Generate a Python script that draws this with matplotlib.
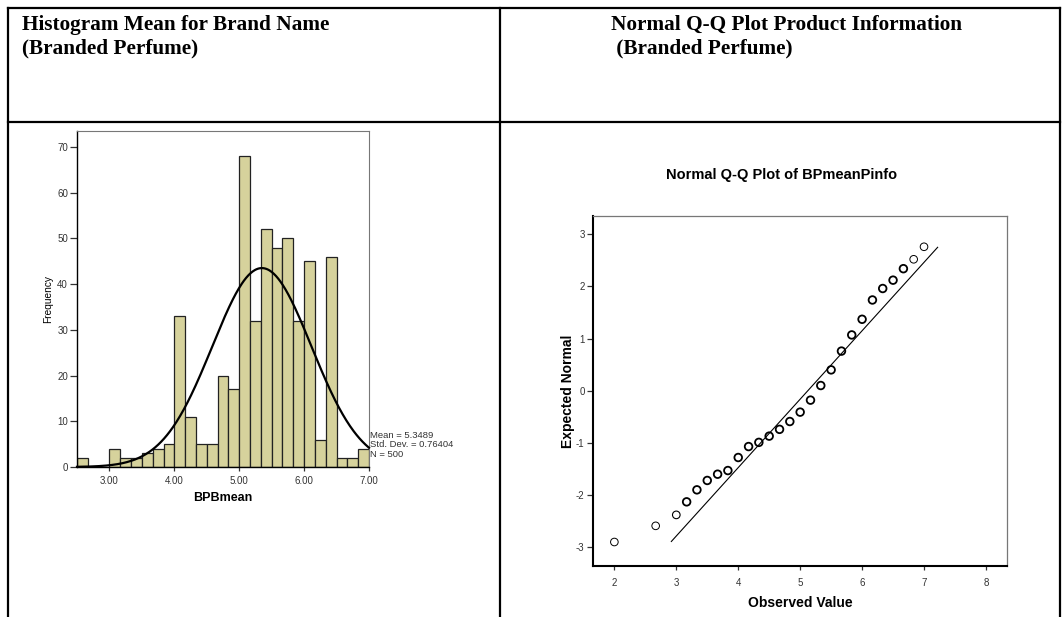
import numpy as np
import matplotlib
matplotlib.use('Agg')
import matplotlib.pyplot as plt
from matplotlib.lines import Line2D

W, H = 1063, 617

# histogram of BPBmean (bins of 1/6 starting at 2.5)
hist_start = 2.5
hist_width = 1.0 / 6
hist_counts = [2, 0, 0, 4, 2, 2, 3, 4, 5, 33, 11, 5, 5, 20, 17,
               68, 32, 52, 48, 50, 32, 45, 6, 46, 2, 2, 4]
hist_mean = 5.3489
hist_sd = 0.76404
hist_n = 500
hist_xticks = [3.0, 4.0, 5.0, 6.0, 7.0]
hist_yticks = [0, 10, 20, 30, 40, 50, 60, 70]

# normal Q-Q of BPmeanPinfo
qq_observed = [2.0, 2.667, 3.0, 3.167, 3.333, 3.5, 3.667, 3.833, 4.0, 4.167,
               4.333, 4.5, 4.667, 4.833, 5.0, 5.167, 5.333, 5.5, 5.667, 5.833,
               6.0, 6.167, 6.333, 6.5, 6.667, 6.833, 7.0]
qq_expected = [-2.90, -2.59, -2.38, -2.13, -1.90, -1.72, -1.60, -1.53, -1.28, -1.07,
               -0.99, -0.87, -0.74, -0.59, -0.41, -0.18, 0.10, 0.40, 0.76, 1.07,
               1.37, 1.74, 1.96, 2.12, 2.34, 2.52, 2.76]
qq_line_x = [2.92, 7.22]
qq_line_y = [-2.89, 2.75]
qq_xticks = [2, 3, 4, 5, 6, 7, 8]
qq_yticks = [-3, -2, -1, 0, 1, 2, 3]


def fx(x):
    return x / W


def fy(y):
    return 1 - y / H


def rect(l, t, r, b):
    return [fx(l), fy(b), (r - l) / W, (b - t) / H]


plt.rcParams['font.family'] = ['Liberation Sans', 'DejaVu Sans']
plt.rcParams['axes.unicode_minus'] = False
fig = plt.figure(figsize=(W / 100, H / 100), dpi=100)
fig.patch.set_facecolor('white')

# table grid
lw_tab = 1.6
for xs, ys in [([8, 1060], [8, 8]), ([8, 1060], [122, 122]),
               ([8, 8], [8, 617]), ([500, 500], [8, 617]), ([1060, 1060], [8, 617])]:
    fig.add_artist(Line2D([fx(v) for v in xs], [fy(v) for v in ys],
                          color='black', lw=lw_tab, transform=fig.transFigure))

hdr = dict(family='Liberation Serif', weight='bold', size=15.3, va='baseline', ha='left')
fig.text(fx(22), fy(30), 'Histogram Mean for Brand Name', **hdr)
fig.text(fx(22), fy(53), '(Branded Perfume)', **hdr)
fig.text(fx(611), fy(30), 'Normal Q-Q Plot Product Information', **hdr)
fig.text(fx(611), fy(53), ' (Branded Perfume)', **hdr)

# ---------- histogram ----------
ax1 = fig.add_axes(rect(77, 131, 369, 467))
lefts = [hist_start + i * hist_width for i in range(len(hist_counts))]
bl = [l for l, c in zip(lefts, hist_counts) if c > 0]
bc = [c for c in hist_counts if c > 0]
ax1.bar(bl, bc, width=hist_width, align='edge', color='#d6d29c',
        edgecolor='#222222', linewidth=0.9, zorder=2)
xs = np.linspace(2.5, 7.0, 400)
ys = hist_n * hist_width * np.exp(-0.5 * ((xs - hist_mean) / hist_sd) ** 2) / (hist_sd * np.sqrt(2 * np.pi))
ax1.plot(xs, ys, color='black', lw=1.6, zorder=3, clip_on=False)
ax1.set_xlim(2.5, 7.0)
ax1.set_ylim(0, 73.5)
ax1.set_xticks(hist_xticks)
ax1.set_xticklabels(['%.2f' % v for v in hist_xticks])
ax1.set_yticks(hist_yticks)
ax1.tick_params(axis='y', direction='out', length=5, width=0.9, color='#333333',
                labelsize=7, labelcolor='#333333', pad=1.5)
ax1.tick_params(axis='x', direction='out', length=3, width=0.9, color='#333333',
                labelsize=7, labelcolor='#333333', pad=3.5)
for s in ['top', 'right']:
    ax1.spines[s].set_color('#777777')
    ax1.spines[s].set_linewidth(0.8)
for s in ['left', 'bottom']:
    ax1.spines[s].set_color('black')
    ax1.spines[s].set_linewidth(1.0)
ax1.set_ylabel('Frequency', fontsize=7.3, labelpad=3)
ax1.set_xlabel('BPBmean', fontsize=9, weight='bold', labelpad=4)
stats = ['Mean = %.4f' % hist_mean, 'Std. Dev. = %.5f' % hist_sd, 'N = %d' % hist_n]
for i, t in enumerate(stats):
    ax1.text(7.02, 7.0 - i * 2.1, t, fontsize=6.8, color='#333333', va='center', ha='left',
             clip_on=False)

# ---------- Q-Q plot ----------
ax2 = fig.add_axes(rect(593, 216, 1007, 566))
edge_w = [0.7, 0.7, 0.8] + [1.3] * 22 + [0.7, 0.7]
ax2.plot(qq_line_x, qq_line_y, color='black', lw=0.8, zorder=2)
ax2.scatter(qq_observed, qq_expected, s=30, facecolors='none', edgecolors='black',
            linewidths=edge_w, zorder=3)
ax2.set_xlim(1.655, 8.34)
ax2.set_ylim(-3.36, 3.35)
ax2.set_xticks(qq_xticks)
ax2.set_yticks(qq_yticks)
ax2.tick_params(axis='y', direction='out', length=4.5, width=0.9, color='#333333',
                labelsize=7, labelcolor='#333333', pad=1.5)
ax2.tick_params(axis='x', direction='out', length=3, width=0.9, color='#333333',
                labelsize=7, labelcolor='#333333', pad=5.5)
for s in ['top', 'right']:
    ax2.spines[s].set_color('#777777')
    ax2.spines[s].set_linewidth(0.9)
for s in ['left', 'bottom']:
    ax2.spines[s].set_color('black')
    ax2.spines[s].set_linewidth(1.5)
ax2.set_xlabel('Observed Value', fontsize=10, weight='bold', labelpad=6)
ax2.set_ylabel('Expected Normal', fontsize=10, weight='bold', labelpad=1)
fig.text(fx(782), fy(175), 'Normal Q-Q Plot of BPmeanPinfo', fontsize=10.5,
         weight='bold', ha='center', va='center')

fig.savefig('out.png', dpi=100)
